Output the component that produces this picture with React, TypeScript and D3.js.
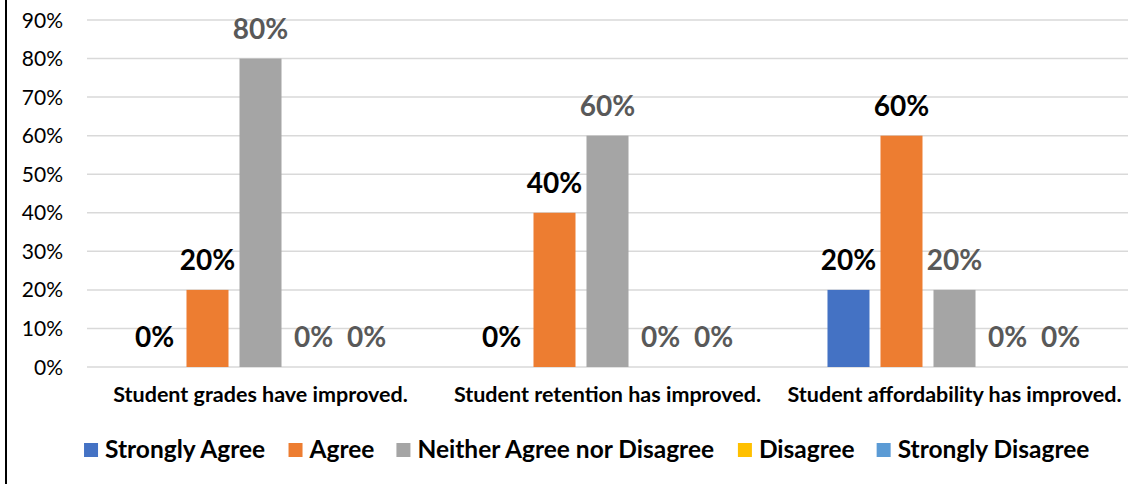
import React from "react";
import * as d3 from "d3";

const categories = [
  "Student grades have improved.",
  "Student retention has improved.",
  "Student affordability has improved.",
];
const seriesNames = [
  "Strongly Agree",
  "Agree",
  "Neither Agree nor Disagree",
  "Disagree",
  "Strongly Disagree",
];
const stronglyAgree = [0, 0, 20];
const agree = [20, 40, 60];
const neither = [80, 60, 20];
const disagree = [0, 0, 0];
const stronglyDisagree = [0, 0, 0];
const seriesValues = [stronglyAgree, agree, neither, disagree, stronglyDisagree];
const seriesColors = ["#4472C4", "#ED7D31", "#A5A5A5", "#FFC000", "#5B9BD5"];
const labelColors = ["#000000", "#000000", "#595959", "#595959", "#595959"];
const yTicks = [0, 10, 20, 30, 40, 50, 60, 70, 80, 90];

const W = 1145;
const H = 484;
const FONT = "Lato, Carlito, Calibri, sans-serif";

function measure(text: string, font: string): number {
  const c = document.createElement("canvas");
  const ctx = c.getContext("2d")!;
  ctx.font = font;
  return ctx.measureText(text).width;
}

export default function App() {
  const x = d3.scaleBand<string>().domain(categories).range([87, 1128]).paddingInner(0).paddingOuter(0);
  const xs = d3
    .scaleBand<string>()
    .domain(seriesNames)
    .range([0, x.bandwidth()])
    .paddingInner(11 / 53)
    .paddingOuter(0.877);
  const y = d3.scaleLinear().domain([0, 90]).range([367, 20]);

  // legend layout
  const legendSize = 24.5;
  const legendFont = `bold ${legendSize}px ${FONT}`;
  const sq = 14;
  const gapText = 7;
  const gapItem = 22;
  const widths = seriesNames.map((s) => measure(s, legendFont));
  const total =
    widths.reduce((a, b) => a + b, 0) + seriesNames.length * (sq + gapText) + (seriesNames.length - 1) * gapItem;
  let lx = 587 - total / 2;
  const legendItems = seriesNames.map((s, i) => {
    const item = { name: s, x: lx, color: seriesColors[i] };
    lx += sq + gapText + widths[i] + gapItem;
    return item;
  });

  return (
    <svg
      width={W}
      height={H}
      style={{ position: "absolute", left: 0, top: 0, background: "#fff" }}
      fontFamily={FONT}
    >
      <rect x={0} y={0} width={W} height={H} fill="#fff" />
      <line x1={6} x2={6} y1={0} y2={H} stroke="#000" strokeWidth={2} />
      {yTicks.map((t) => (
        <g key={t}>
          <line x1={87} x2={1128} y1={y(t)} y2={y(t)} stroke="#D9D9D9" strokeWidth={1.5} />
          <text x={63} y={y(t)} dy="0.36em" textAnchor="end" fontSize={21} fill="#000">
            {t}%
          </text>
        </g>
      ))}
      {categories.map((c, ci) => (
        <g key={c}>
          {seriesNames.map((s, si) => {
            const v = seriesValues[si][ci];
            const bx = x(c)! + xs(s)!;
            return (
              <g key={s}>
                {v > 0 && (
                  <rect x={bx} y={y(v)} width={xs.bandwidth()} height={y(0) - y(v)} fill={seriesColors[si]} />
                )}
                <text
                  x={bx + xs.bandwidth() / 2}
                  y={y(v) - 20}
                  textAnchor="middle"
                  fontSize={28}
                  fontWeight="bold"
                  fill={labelColors[si]}
                >
                  {v}%
                </text>
              </g>
            );
          })}
          <text x={x(c)! + x.bandwidth() / 2} y={402} textAnchor="middle" fontSize={21.5} fontWeight="bold" fill="#000">
            {c}
          </text>
        </g>
      ))}
      {legendItems.map((it) => (
        <g key={it.name}>
          <rect x={it.x} y={443} width={sq} height={sq} fill={it.color} />
          <text x={it.x + sq + gapText} y={458} fontSize={legendSize} fontWeight="bold" fill="#000">
            {it.name}
          </text>
        </g>
      ))}
    </svg>
  );
}
